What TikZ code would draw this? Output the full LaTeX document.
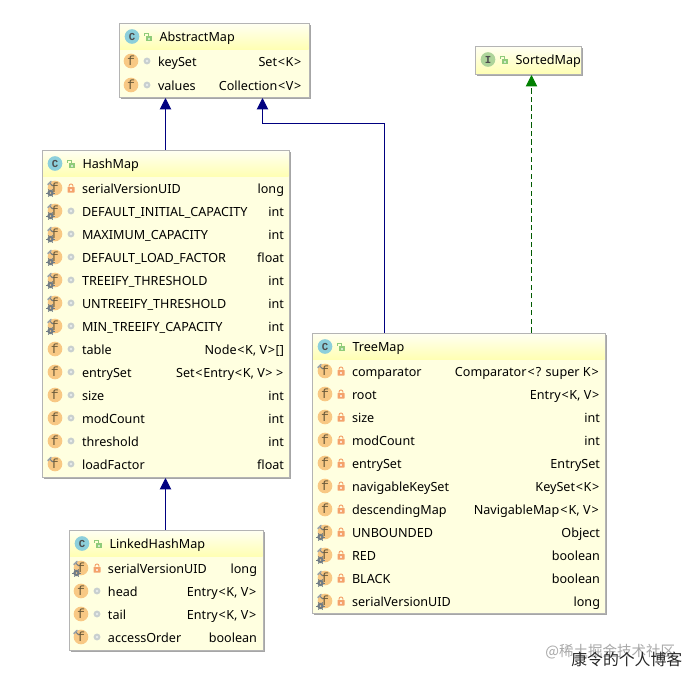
\documentclass[tikz,border=0pt]{standalone}
\usepackage{fontspec}
\setmainfont{Noto Sans}
\newfontfamily\cjkfont{Noto Sans CJK SC}
\newfontfamily\iconfont{Liberation Mono}
\usetikzlibrary{arrows.meta,fit}
\definecolor{bodyfill}{HTML}{FFFFE0}
\definecolor{bordergray}{HTML}{B4B4B4}
\definecolor{shadowgray}{HTML}{A6A6A6}
\definecolor{titletop}{HTML}{FFFFF2}
\definecolor{titlebot}{HTML}{FFFFB4}
\definecolor{ficoncol}{HTML}{F8C884}
\definecolor{fletter}{HTML}{6A5A3A}
\definecolor{cicon}{HTML}{8CCFDB}
\definecolor{iicon}{HTML}{AED49A}
\definecolor{locklt}{HTML}{F4A26C}
\definecolor{lockgr}{HTML}{8FCB7A}
\definecolor{dotgray}{HTML}{C8CFCF}
\definecolor{pingray}{HTML}{6F7B85}
\definecolor{inhblue}{HTML}{000080}
\definecolor{implgreen}{HTML}{008000}
\definecolor{wmgray}{HTML}{A8A8A8}
\tikzset{
  x=0.75pt,y=-0.75pt,
  boxoutline/.style={draw=bordergray,line width=0.75pt,inner sep=0pt,outer sep=0pt},
  txt/.style={font=\fontsize{9.45pt}{11pt}\selectfont,text=black,inner sep=0pt,outer sep=0pt},
  ttl/.style={txt},
  letter/.style={font=\iconfont\fontsize{10pt}{11pt}\selectfont,inner sep=0pt,outer sep=0pt},
  inh/.style={draw=inhblue,line width=0.75pt,-{Triangle[length=8.5pt,width=8.5pt,fill=inhblue]}},
  impl/.style={draw=implgreen!70!black,line width=0.7pt,dash pattern=on 4pt off 2.4pt,-{Triangle[length=8.5pt,width=8.5pt,fill=implgreen,color=implgreen]}},
}
\newcounter{nn}
\newcommand{\Lt}{\kern0.5pt<\kern0.5pt}
\newcommand{\Gt}{\kern0.5pt>\kern0.5pt}
\newcommand{\lockclosed}[2]{%
  \draw[locklt,line width=0.7pt] (#1-2,#2-1) -- (#1-2,#2-2) arc[start angle=180,end angle=0,radius=1.5pt] -- (#1+2,#2-1);
  \fill[locklt,rounded corners=0.3pt] (#1-3.5,#2-1) rectangle (#1+3.5,#2+4.5);
  \fill[white!70!locklt] (#1-0.7,#2+0.5) rectangle (#1+0.7,#2+2.5);}
\newcommand{\lockopen}[2]{%
  \draw[lockgr,line width=0.7pt] (#1-4,#2-1) -- (#1-4,#2-3) -- (#1,#2-3) -- (#1,#2-0.5);
  \fill[lockgr] (#1-2,#2-0.5) rectangle (#1+4,#2+4.5);
  \fill[white!60!lockgr] (#1,#2+1) rectangle (#1+2,#2+3);}
\newcommand{\dotmark}[2]{%
  \fill[dotgray] (#1,#2) circle[radius=2.6pt];
  \fill[white!60!dotgray] (#1,#2) circle[radius=1.1pt];}
\newcommand{\ficon}[3]{%
  \fill[ficoncol] (#1,#2) circle[radius=5.5pt];
  \stepcounter{nn}\node[letter,text=fletter] (n\arabic{nn}) at (#1,#2) {f};
  \ifnum#3>0
    \draw[pingray,line width=0.7pt,line cap=round] (#1-5.5,#2-5) -- (#1-2,#2-2);
    \draw[pingray!70,line width=1.2pt,line cap=round] (#1-7,#2-3.5) -- (#1-4,#2-6.5);
  \fi
  \ifnum#3>1
    \fill[pingray,even odd rule] (#1-4.5,#2+5) circle[radius=3.2] (#1-4.5,#2+5) circle[radius=1.2];
    \foreach \aa in {0,60,...,300}{\draw[pingray,line width=0.7pt] (#1-4.5,#2+5) ++(\aa:2.8) -- ++(\aa:1.4);}
  \fi}
\newcommand{\frow}[7]{%
  \ficon{#1+13}{#3}{#4}%
  \ifx l#5\lockclosed{#1+29}{#3}\else\dotmark{#1+29}{#3}\fi
  \stepcounter{nn}\node[txt,anchor=base west] (n\arabic{nn}) at (#1+40,#3+5.2) {#6};
  \stepcounter{nn}\node[txt,anchor=base east] (n\arabic{nn}) at (#2-5,#3+5.2) {#7};}
\newcommand{\umlbox}[9]{%
  \fill[shadowgray] (#2+2,#3+2) rectangle (#4+2,#5+2);
  \node[boxoutline,fill=bodyfill,fit={(#2,#3)(#4,#5)}] (#1) {};
  \shade[top color=titletop,bottom color=titlebot] (#2+0.5,#3+0.5) rectangle (#4-0.5,#6);
  \draw[bordergray,line width=0.75pt] (#2,#3) rectangle (#4,#5);
  \fill[#8] (#2+13,#3+13.5) circle[radius=5.5pt];
  \stepcounter{nn}\node[letter,font=\iconfont\bfseries\fontsize{8pt}{9pt}\selectfont,text=black!70] (n\arabic{nn}) at (#2+13,#3+13.5) {#7};
  \lockopen{#2+29}{#3+13.5}
  \stepcounter{nn}\node[ttl,anchor=base west] (n\arabic{nn}) at (#2+40.5,#3+18.5) {#9};}
\begin{document}
\begin{tikzpicture}
\useasboundingbox (0,0) rectangle (694,678);
\fill[white] (0,0) rectangle (694,678);

\umlbox{am}{119}{23}{309}{97}{49}{C}{cicon}{AbstractMap}
\frow{118}{307}{61}{0}{d}{keySet}{Set\Lt K\Gt}
\frow{118}{307}{85}{0}{d}{values}{Collection\Lt V\Gt}

\umlbox{sm}{475}{46}{581}{74}{74}{I}{iicon}{SortedMap}

\umlbox{hm}{42}{150}{289}{477}{176}{C}{cicon}{HashMap}
\frow{42}{289}{188}{2}{l}{serialVersionUID}{long}
\frow{42}{289}{211}{2}{d}{DEFAULT\_INITIAL\_CAPACITY}{int}
\frow{42}{289}{234}{2}{d}{MAXIMUM\_CAPACITY}{int}
\frow{42}{289}{257}{2}{d}{DEFAULT\_LOAD\_FACTOR}{float}
\frow{42}{289}{280}{2}{d}{TREEIFY\_THRESHOLD}{int}
\frow{42}{289}{303}{2}{d}{UNTREEIFY\_THRESHOLD}{int}
\frow{42}{289}{326}{2}{d}{MIN\_TREEIFY\_CAPACITY}{int}
\frow{42}{289}{349}{0}{d}{table}{Node\Lt K, V\Gt[]}
\frow{42}{289}{372}{0}{d}{entrySet}{Set\Lt Entry\Lt K, V\Gt\,{}\Gt}
\frow{42}{289}{395}{0}{d}{size}{int}
\frow{42}{289}{418}{0}{d}{modCount}{int}
\frow{42}{289}{441}{0}{d}{threshold}{int}
\frow{42}{289}{464}{1}{d}{loadFactor}{float}

\umlbox{lm}{69}{530}{263}{650}{556}{C}{cicon}{LinkedHashMap}
\frow{68}{262}{568}{2}{l}{serialVersionUID}{long}
\frow{68}{262}{591}{0}{d}{head}{Entry\Lt K, V\Gt}
\frow{68}{262}{614}{0}{d}{tail}{Entry\Lt K, V\Gt}
\frow{68}{262}{637}{1}{d}{accessOrder}{boolean}

\umlbox{tm}{312}{333}{605}{613}{359}{C}{cicon}{TreeMap}
\frow{312}{605}{371}{1}{l}{comparator}{Comparator\kern0.8pt<\kern0.8pt? super K\kern0.8pt>\kern0.8pt}
\frow{312}{605}{394}{0}{l}{root}{Entry\Lt K, V\Gt}
\frow{312}{605}{417}{0}{l}{size}{int}
\frow{312}{605}{440}{0}{l}{modCount}{int}
\frow{312}{605}{463}{0}{l}{entrySet}{EntrySet}
\frow{312}{605}{486}{0}{l}{navigableKeySet}{KeySet\Lt K\Gt}
\frow{312}{605}{509}{0}{l}{descendingMap}{NavigableMap\kern0.8pt<\kern0.8pt K, V\kern0.8pt>\kern0.8pt}
\frow{312}{605}{532}{2}{l}{UNBOUNDED}{Object}
\frow{312}{605}{555}{2}{l}{RED}{boolean}
\frow{312}{605}{578}{2}{l}{BLACK}{boolean}
\frow{312}{605}{601}{2}{l}{serialVersionUID}{long}

\coordinate (tmout) at (384.5,332.5);
\coordinate (tmbend) at (384.5,123.5);
\coordinate (amin) at (262.5,98);
\coordinate (smout) at (531.5,332.5);
\coordinate (smin) at (531.5,75);
\coordinate (hmout) at (165.5,149.5);
\coordinate (amin2) at (165.5,98);
\coordinate (lmout) at (165.5,529.5);
\coordinate (hmin) at (165.5,478);
\draw[inh] (hmout) -- (amin2);
\draw[inh] (tmout) -- (tmbend) -| (amin);
\draw[impl] (smout) -- (smin);
\draw[inh] (lmout) -- (hmin);

\node[inner sep=0pt,anchor=base west,text=wmgray,font=\cjkfont\fontsize{10.9pt}{12pt}\selectfont] (wm) at (545,656) {@稀土掘金技术社区};
\node[inner sep=0pt,anchor=base west,text=black!85,font=\cjkfont\fontsize{11.9pt}{13pt}\selectfont] (blog) at (571,665) {康令的个人博客};
\end{tikzpicture}
\end{document}
